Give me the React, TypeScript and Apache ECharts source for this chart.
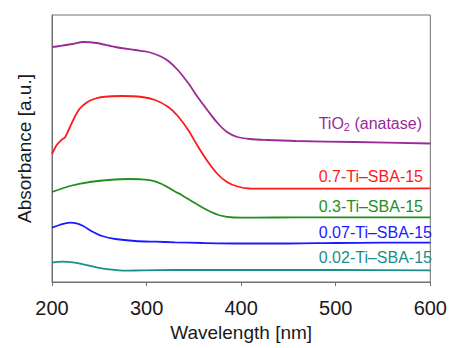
import React, { useEffect, useRef } from "react";
import * as echarts from "echarts";

// Wavelength (nm) and absorbance (a.u., offset stacked)
const tio2Wl = [200, 208, 222, 233, 247, 267, 288, 302, 314, 323, 333, 344, 354, 365, 375, 385, 396, 409, 427, 458, 520, 600];
const tio2Abs = [2.35, 2.36, 2.38, 2.40, 2.39, 2.35, 2.32, 2.30, 2.26, 2.21, 2.12, 1.99, 1.85, 1.71, 1.59, 1.50, 1.45, 1.43, 1.42, 1.41, 1.40, 1.385];

const ti07Wl = [200, 205, 210, 214, 219, 224, 229, 236, 243, 253, 274, 295, 309, 323, 333, 344, 354, 365, 375, 385, 396, 409, 458, 600];
const ti07Abs = [1.28, 1.37, 1.42, 1.45, 1.55, 1.65, 1.73, 1.79, 1.825, 1.85, 1.86, 1.85, 1.82, 1.75, 1.66, 1.52, 1.36, 1.20, 1.08, 1.00, 0.955, 0.935, 0.933, 0.937];

const ti03Wl = [200, 219, 240, 260, 281, 295, 306, 316, 323, 330, 337, 351, 365, 378, 392, 413, 458, 600];
const ti03Abs = [0.90, 0.96, 1.00, 1.02, 1.03, 1.027, 1.013, 0.98, 0.945, 0.905, 0.87, 0.79, 0.715, 0.665, 0.645, 0.643, 0.647, 0.647];

const ti007Wl = [200, 208, 219, 226, 233, 243, 253, 267, 288, 309, 330, 360, 400, 450, 500, 550, 600];
const ti007Abs = [0.543, 0.57, 0.593, 0.587, 0.56, 0.503, 0.46, 0.43, 0.41, 0.403, 0.397, 0.39, 0.385, 0.385, 0.39, 0.393, 0.393];

const ti002Wl = [200, 211, 222, 233, 247, 260, 278, 295, 330, 400, 500, 600];
const ti002Abs = [0.193, 0.203, 0.197, 0.177, 0.147, 0.127, 0.113, 0.117, 0.12, 0.12, 0.12, 0.117];

const xTicks = [200, 300, 400, 500, 600];
const seriesNames = ["TiO2 (anatase)", "0.7-Ti–SBA-15", "0.3-Ti–SBA-15", "0.07-Ti–SBA-15", "0.02-Ti–SBA-15"];

const COLORS = ["#9a2a96", "#ff1a1a", "#1f8f1f", "#1a1aff", "#1a8f8a"];
const FONT = "Liberation Sans, Arial, sans-serif";

function pairs(xs: number[], ys: number[]) {
  return xs.map((x, i) => [x, ys[i]]);
}

export default function App() {
  const ref = useRef<HTMLDivElement>(null);
  useEffect(() => {
    if (!ref.current) return;
    const chart = echarts.init(ref.current, undefined, { renderer: "svg" });
    const all = [
      pairs(tio2Wl, tio2Abs),
      pairs(ti07Wl, ti07Abs),
      pairs(ti03Wl, ti03Abs),
      pairs(ti007Wl, ti007Abs),
      pairs(ti002Wl, ti002Abs),
    ];
    const labelPos = [
      [422, 123],
      [423, 176],
      [423, 206],
      [432, 232],
      [432, 257],
    ];
    const labelTexts = [
      "TiO{sub|2} (anatase)",
      seriesNames[1],
      seriesNames[2],
      seriesNames[3],
      seriesNames[4],
    ];
    chart.setOption({
      animation: false,
      backgroundColor: "#ffffff",
      grid: {
        left: 52,
        top: 15,
        right: 14,
        bottom: 66,
        show: true,
        borderColor: "#707070",
        borderWidth: 1,
      },
      xAxis: {
        type: "value",
        min: xTicks[0],
        max: xTicks[xTicks.length - 1],
        interval: 100,
        name: "Wavelength [nm]",
        nameLocation: "middle",
        nameGap: 35,
        nameTextStyle: { fontFamily: FONT, fontSize: 19, color: "#1a1a1a" },
        axisLine: { lineStyle: { color: "#707070", width: 1 } },
        axisTick: { show: true, inside: false, length: 4, lineStyle: { color: "#707070" } },
        axisLabel: { fontFamily: FONT, fontSize: 20, color: "#1a1a1a", margin: 16 },
        splitLine: { show: false },
      },
      yAxis: {
        type: "value",
        min: 0,
        max: 2.67,
        name: "Absorbance [a.u.]",
        nameLocation: "middle",
        nameGap: 18,
        nameTextStyle: { fontFamily: FONT, fontSize: 19, color: "#1a1a1a" },
        axisLine: { show: true, lineStyle: { color: "#707070", width: 1 } },
        axisTick: { show: false },
        axisLabel: { show: false },
        splitLine: { show: false },
      },
      series: all.map((d, i) => ({
        name: seriesNames[i],
        type: "line",
        data: d,
        smooth: 0.3,
        showSymbol: false,
        lineStyle: { color: COLORS[i], width: 1.8 },
      })),
      graphic: labelPos.map((p, i) => ({
        type: "text",
        x: p[0],
        y: p[1],
        style: {
          text: labelTexts[i],
          fill: COLORS[i],
          fontFamily: FONT,
          fontSize: 16,
          align: "right",
          verticalAlign: "middle",
          rich: {
            sub: { fontSize: 11, fontFamily: FONT, fill: COLORS[i], padding: [7, 0, 0, 0] },
          },
        },
      })),
    });
    return () => chart.dispose();
  }, []);
  return (
    <div
      ref={ref}
      style={{ position: "fixed", left: 0, top: 0, width: 450, height: 348 }}
    />
  );
}
